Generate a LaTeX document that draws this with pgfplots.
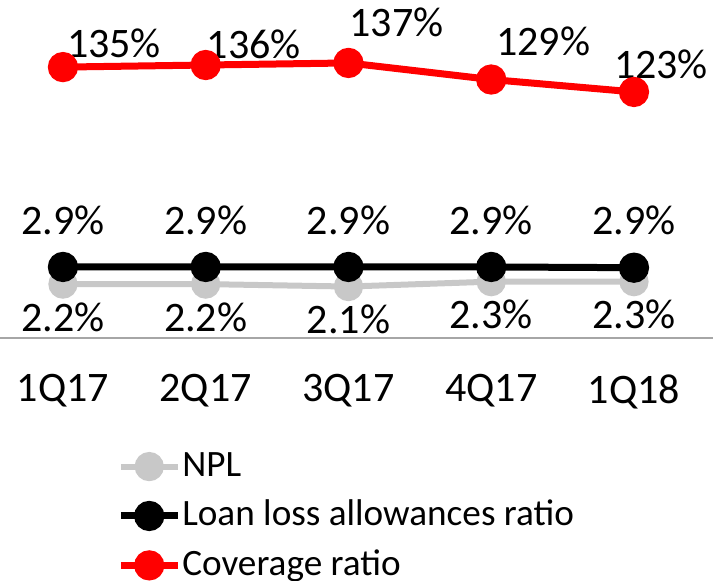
\documentclass[border=0pt]{standalone}
\usepackage{fontspec}
\setmainfont{Carlito}
\usepackage{pgfplots}
\pgfplotsset{compat=1.18}
\definecolor{nplgray}{HTML}{C8C8C8}
\definecolor{axgray}{HTML}{A6A6A6}
\definecolor{covred}{HTML}{FF0000}
\begin{document}
\begin{tikzpicture}[font=\fontsize{21pt}{25pt}\selectfont]
\path[use as bounding box] (0,0) rectangle (362.5pt,290.5pt);
\pgfplotsset{
 base/.style={
  at={(0pt,121.5pt)}, anchor=south west,
  scale only axis, width=356.25pt, height=169pt,
  xmin=-0.441, xmax=4.55,
  clip=false,
 },
 ser/.style={line width=3.5pt, mark=*, mark size=5.8pt, mark options={solid}},
}
\begin{axis}[base, ymin=0, ymax=13.8,
 axis y line=none, axis x line*=bottom,
 x axis line style={axgray, line width=0.8pt, -},
 xtick={0,...,4}, xticklabels={1Q17,2Q17,3Q17,4Q17,1Q18},
 major tick length=0pt,
 xticklabel style={anchor=north, inner sep=0pt, yshift=-18pt},
 nodes near coords={\pgfmathprintnumber[fixed,fixed zerofill,precision=1,assume math mode=true]{\pgfplotspointmeta}\%},
]
\addplot[ser, nplgray, line width=3pt, every node near coord/.append style={anchor=center, yshift=-16.5pt, text=black}]
 coordinates {(0,2.2)(1,2.2)(2,2.1)(3,2.3)(4,2.3)};
\addplot[ser, black, every node near coord/.append style={anchor=center, yshift=23.5pt, text=black}]
 coordinates {(0,2.9)(1,2.9)(2,2.9)(3,2.9)(4,2.87)};
\end{axis}
\begin{axis}[base, ymin=4.2, ymax=167.4, hide axis,
 legend style={at={(axis description cs:0.1640,-0.326)}, anchor=north west,
   draw=none, fill=none, inner sep=0pt, row sep=6.7pt,
   font=\fontsize{18.6pt}{22pt}\selectfont,
   nodes={text height=14pt, text depth=4pt, inner sep=0pt},
   cells={anchor=west}},
 legend image code/.code={\draw[mark repeat=2,mark phase=2] plot coordinates {(0pt,0pt)(14.25pt,0pt)(28.5pt,0pt)};},
]
\addlegendimage{ser, nplgray, line width=3pt}
\addlegendentry{\hspace{0.5pt}NPL}
\addlegendimage{ser, black}
\addlegendentry{\hspace{0.5pt}Loan loss allowances ratio}
\addplot[ser, covred] coordinates {(0,135)(1,136)(2,137)(3,129)(4,123)};
\addlegendentry{\hspace{0.5pt}Coverage ratio}
\node at (axis cs:0,135) [xshift=25.5pt, yshift=12pt] {135\%};
\node at (axis cs:1,136) [xshift=24pt, yshift=10.5pt] {136\%};
\node at (axis cs:2,137) [xshift=24pt, yshift=20.5pt] {137\%};
\node at (axis cs:3,129) [xshift=26pt, yshift=19pt] {129\%};
\node at (axis cs:4,123) [xshift=13.5pt, yshift=14pt] {123\%};
\end{axis}
\end{tikzpicture}
\end{document}
